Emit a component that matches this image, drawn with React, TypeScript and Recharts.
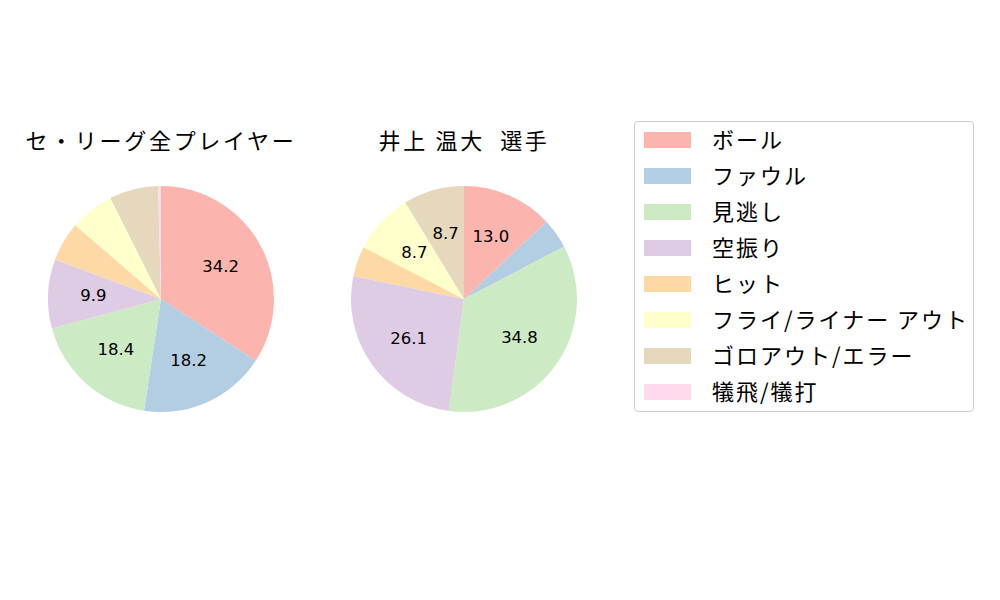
import { PieChart, Pie, Cell } from "recharts";

const CATEGORIES = [
  "ボール",
  "ファウル",
  "見逃し",
  "空振り",
  "ヒット",
  "フライ/ライナー アウト",
  "ゴロアウト/エラー",
  "犠飛/犠打",
];
const LEAGUE_VALUES = [34.2, 18.2, 18.4, 9.9, 5.6, 6.3, 7.0, 0.4];
const PLAYER_VALUES = [13.0, 4.3, 34.8, 26.1, 4.3, 8.7, 8.7, 0];
const TITLES = ["セ・リーグ全プレイヤー", "井上 温大\u00a0\u00a0選手"];
const COLORS = ["#fbb4ae", "#b3cde3", "#ccebc5", "#decbe4", "#fed9a6", "#ffffcc", "#e5d8bd", "#fddaec"];

const FONT = "'Noto Sans CJK JP', 'DejaVu Sans', sans-serif";
const RADIAN = Math.PI / 180;
const RADIUS = 113;
const CENTERS = [161, 464];

const leagueData = CATEGORIES.map((name, i) => ({ name, value: LEAGUE_VALUES[i] }));
const playerData = CATEGORIES.map((name, i) => ({ name, value: PLAYER_VALUES[i] }));

// matplotlib-like autopct: text at 0.6 r, small slices left blank
const renderLabel = (props: any) => {
  const { cx, cy, midAngle, outerRadius, percent, value } = props;
  if (percent < 0.08) return null;
  const r = outerRadius * 0.6;
  const x = cx + r * Math.cos(-midAngle * RADIAN);
  const y = cy + r * Math.sin(-midAngle * RADIAN);
  return (
    <text x={x} y={y} textAnchor="middle" dominantBaseline="central" fill="#000"
      style={{ fontFamily: "'DejaVu Sans', sans-serif", fontSize: 16.5 }}>
      {Number(value).toFixed(1)}
    </text>
  );
};

export default function App() {
  return (
    <div style={{ position: "absolute", left: 0, top: 0, width: 1000, height: 600, background: "#fff" }}>
      <PieChart width={1000} height={600} margin={{ top: 0, right: 0, bottom: 0, left: 0 }}>
        {[leagueData, playerData].map((data, k) => (
          <Pie
            key={k}
            data={data}
            dataKey="value"
            nameKey="name"
            cx={CENTERS[k]}
            cy={299}
            outerRadius={RADIUS}
            startAngle={90}
            endAngle={-270}
            stroke="none"
            label={renderLabel}
            labelLine={false}
            isAnimationActive={false}
          >
            {data.map((entry, i) => (
              <Cell key={`cell-${k}-${i}`} fill={COLORS[i % COLORS.length]} />
            ))}
          </Pie>
        ))}
      </PieChart>

      {TITLES.map((t, k) => (
        <div key={t} style={{
          position: "absolute", left: CENTERS[k] - 200, width: 400, top: 124, textAlign: "center",
          fontFamily: FONT, fontSize: 22, letterSpacing: 2.7, lineHeight: "30px", whiteSpace: "pre",
        }}>
          {t}
        </div>
      ))}

      <div style={{
        position: "absolute", left: 634, top: 121, width: 338, height: 289,
        border: "1px solid #cccccc", borderRadius: 4, background: "#fff",
      }}>
        {CATEGORIES.map((c, i) => (
          <div key={c} style={{ position: "absolute", left: 9, top: 10 + i * 36, height: 16, display: "flex", alignItems: "center" }}>
            <div style={{ width: 47, height: 16, background: COLORS[i] }} />
            <div style={{
              marginLeft: 21, position: "relative", top: -2, fontFamily: FONT, fontSize: 22, letterSpacing: 2,
              whiteSpace: "pre", lineHeight: "30px",
            }}>
              {c}
            </div>
          </div>
        ))}
      </div>
    </div>
  );
}
